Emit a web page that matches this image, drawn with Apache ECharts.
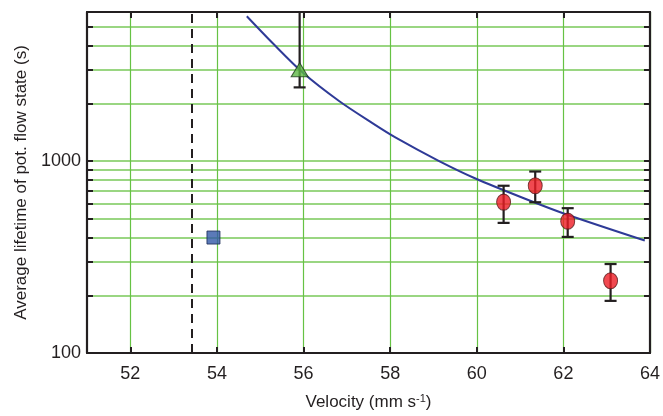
<!DOCTYPE html>
<html><head><meta charset="utf-8">
<script src="https://cdn.jsdelivr.net/npm/echarts@6/dist/echarts.min.js"></script>
<style>html,body{margin:0;padding:0;background:#fff}#c{width:663px;height:416px}</style>
</head><body><div id="c"></div>
<script>
// ---- data ----
const xTicks = [52, 54, 56, 58, 60, 62, 64];
const yTicks = [200, 300, 400, 500, 600, 700, 800, 900, 1000, 2000, 3000, 4000, 5000, 6000];
const yLabels = [100, 1000];
const criticalVelocity = [53.41];
const fitX = [54.69, 55.29, 55.98, 56.82, 57.59, 58.13, 59.12, 59.97, 61.19, 62.04, 63.88];
const fitY = [5700, 4120, 2900, 2060, 1580, 1327, 1005, 813, 628, 531, 386];
const redX = [60.62, 61.35, 62.1, 63.09];
const redY = [612, 745, 487, 238];
const redLow = [477, 611, 403, 187];
const redHigh = [745, 884, 569, 291];
const triX = [55.91];
const triY = [3000];
const triLow = [2427];
const triHigh = [9000];
const sqX = [53.92];
const sqY = [400];

const FONT = 'Liberation Sans, Arial, sans-serif';
const TXT = '#231f20';
const chart = echarts.init(document.getElementById('c'));

function pairs(xs, ys) { return xs.map((x, i) => [x, ys[i]]); }

function errorBars(xs, lo, hi) {
  return {
    type: 'custom',
    z: 3,
    data: xs.map((x, i) => [x, lo[i], hi[i]]),
    renderItem: function (params, api) {
      const cs = params.coordSys;
      const x = api.value(0);
      const pLo = api.coord([x, api.value(1)]);
      const pHi = api.coord([x, api.value(2)]);
      const topClip = pHi[1] < cs.y;
      const yTop = Math.max(pHi[1], cs.y);
      const w = 6;
      const style = { stroke: '#231f20', lineWidth: 2.2, fill: null };
      const children = [
        { type: 'line', shape: { x1: pLo[0], y1: pLo[1], x2: pLo[0], y2: yTop }, style: style },
        { type: 'line', shape: { x1: pLo[0] - w, y1: pLo[1], x2: pLo[0] + w, y2: pLo[1] }, style: style }
      ];
      if (!topClip) children.push({ type: 'line', shape: { x1: pHi[0] - w, y1: pHi[1], x2: pHi[0] + w, y2: pHi[1] }, style: style });
      return { type: 'group', children: children };
    }
  };
}

const axisLineStyle = { lineStyle: { color: '#231f20', width: 2.2 } };

chart.setOption({
  animation: false,
  backgroundColor: '#fff',
  grid: { left: 87, right: 11, top: 12, bottom: 61, containLabel: false },
  xAxis: [
    {
      type: 'value', min: 51, max: 64, position: 'bottom',
      axisLine: axisLineStyle,
      axisTick: { inside: true, length: 6, customValues: xTicks, lineStyle: { color: '#231f20', width: 2 } },
      axisLabel: { customValues: xTicks, fontFamily: FONT, fontSize: 18, color: TXT, margin: 12 },
      splitLine: { show: true, lineStyle: { color: '#66c244', width: 1.2 } },
      name: 'Velocity (mm s{sup|-1})', nameLocation: 'middle', nameGap: 40,
      nameTextStyle: { fontFamily: FONT, fontSize: 17, color: TXT,
        rich: { sup: { fontFamily: FONT, fontSize: 11, color: TXT, verticalAlign: 'top', padding: [0, 0, 8, 0] } } }
    },
    {
      type: 'value', min: 51, max: 64, position: 'top',
      axisLine: axisLineStyle,
      axisTick: { inside: true, length: 6, customValues: xTicks, lineStyle: { color: '#231f20', width: 2 } },
      axisLabel: { show: false }, splitLine: { show: false }
    }
  ],
  yAxis: [
    {
      type: 'log', logBase: 10, min: 100, max: 6000, position: 'left',
      axisLine: axisLineStyle,
      axisTick: { inside: true, length: 6, customValues: yTicks, lineStyle: { color: '#231f20', width: 2 } },
      axisLabel: { customValues: yLabels, formatter: v => String(Math.round(v)), fontFamily: FONT, fontSize: 18, color: TXT, margin: 6 },
      splitLine: { show: true, lineStyle: { color: '#9ad682', width: 2 } },
      name: 'Average lifetime of pot. flow state (s)', nameLocation: 'middle', nameGap: 56,
      nameTextStyle: { fontFamily: FONT, fontSize: 17, color: TXT }
    },
    {
      type: 'log', logBase: 10, min: 100, max: 6000, position: 'right',
      axisLine: axisLineStyle,
      axisTick: { inside: true, length: 6, customValues: yTicks, lineStyle: { color: '#231f20', width: 2 } },
      axisLabel: { show: false }, splitLine: { show: false }
    }
  ],
  series: [
    {
      type: 'line', data: pairs(fitX, fitY), smooth: 0.3, showSymbol: false, z: 2,
      lineStyle: { color: '#2e3a97', width: 2 },
      markLine: {
        silent: true, symbol: 'none', label: { show: false },
        lineStyle: { color: '#231f20', type: [9, 6], width: 2 },
        data: criticalVelocity.map(v => ({ xAxis: v }))
      }
    },
    errorBars(redX, redLow, redHigh),
    errorBars(triX, triLow, triHigh),
    {
      type: 'scatter', data: pairs(redX, redY), symbol: 'circle', symbolSize: [14, 16], z: 4,
      itemStyle: { color: '#ee1c24', borderColor: '#5a1a1a', borderWidth: 1 }
    },
    {
      type: 'scatter', data: pairs(triX, triY), symbol: 'triangle', symbolSize: [17, 14], z: 4,
      itemStyle: { color: '#5cb645', borderColor: '#1e3a1e', borderWidth: 1 }
    },
    {
      type: 'scatter', data: pairs(sqX, sqY), symbol: 'rect', symbolSize: 13, z: 4,
      itemStyle: { color: '#3259a8', borderColor: '#1a2a55', borderWidth: 1 }
    }
  ]
});
</script></body></html>
